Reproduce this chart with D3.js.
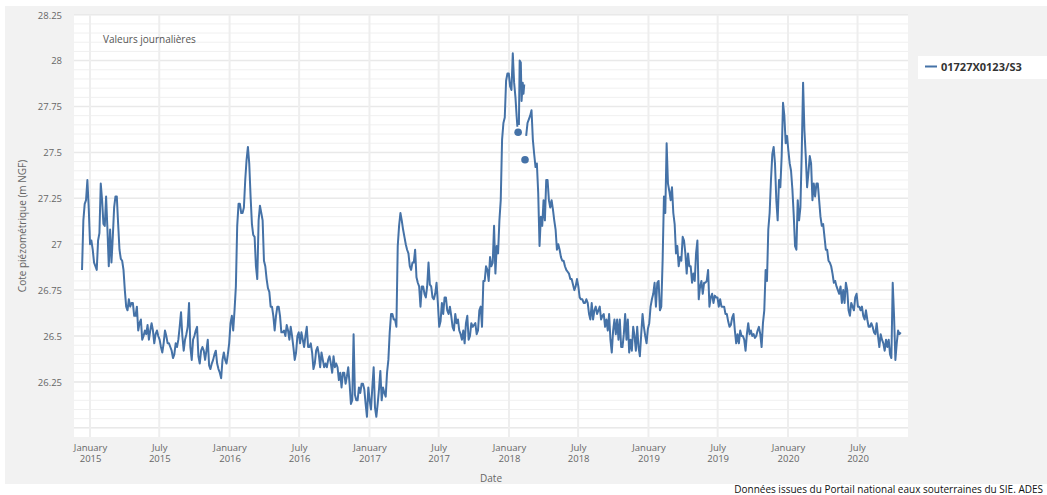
<html>
<head>
<script src="https://d3js.org/d3.v7.min.js"></script>
<style>
  body { margin: 0; background: #fff; }
  text { font-family: "Open Sans", sans-serif; }
</style>
</head>
<body>
<script>

W = 1047;
H = 495;

serieNom = "01727X0123/S3";
titre = "Valeurs journalières";
credit = "Données issues du Portail national eaux souterraines du SIE. ADES";

// releves du jeudi, decembre 2014 -> janvier 2018
debutA = "2014-12-11";
niveauxA = [
  26.86, 27.22, 27.35, 27.00, 26.97, 26.88, 27.02, 27.33, 27.11, 27.26,
  26.88, 26.90, 27.20, 27.26, 26.97, 26.91, 26.75, 26.64, 26.66, 26.68,
  26.61, 26.53, 26.59, 26.50, 26.51, 26.48, 26.57, 26.46, 26.53, 26.48,
  26.41, 26.53, 26.46, 26.44, 26.38, 26.46, 26.48, 26.63, 26.42, 26.51,
  26.68, 26.37, 26.50, 26.55, 26.35, 26.44, 26.37, 26.48, 26.32, 26.37,
  26.42, 26.32, 26.27, 26.41, 26.35, 26.46, 26.61, 26.64, 27.10, 27.22,
  27.17, 27.35, 27.53, 27.26, 27.05, 26.88, 27.13, 27.17, 26.91, 26.81,
  26.74, 26.66, 26.53, 26.66, 26.61, 26.52, 26.50, 26.53, 26.55, 26.44,
  26.41, 26.52, 26.52, 26.44, 26.55, 26.44, 26.41, 26.35, 26.44, 26.33,
  26.37, 26.35, 26.37, 26.35, 26.39, 26.35, 26.26, 26.22, 26.30, 26.28,
  26.24, 26.15, 26.18, 26.15, 26.19, 26.24, 26.13, 26.22, 26.10, 26.33,
  26.06, 26.21, 26.15, 26.19, 26.30, 26.52, 26.62, 26.59, 26.99, 27.17,
  27.08, 27.00, 26.95, 26.86, 26.90, 26.82, 26.77, 26.77, 26.73, 26.77,
  26.78, 26.71, 26.73, 26.68, 26.58, 26.62, 26.71, 26.62, 26.61, 26.53,
  26.57, 26.53, 26.48, 26.46, 26.61, 26.50, 26.55, 26.57, 26.53, 26.66,
  26.80, 26.88, 26.80, 26.88, 27.10, 26.99, 27.13, 27.57, 27.69, 27.93,
  27.86, 28.04, 27.80
];
// releves du lundi (3,5 jours apres chaque jeudi)
niveauxAmi = [
  27.13, 27.24, 27.20, 27.02, 26.90, 26.86, 27.06, 27.24, 27.10, 27.08,
  27.08, 27.04, 27.26, 27.11, 26.92, 26.86, 26.66, 26.70, 26.68, 26.61,
  26.66, 26.57, 26.48, 26.53, 26.56, 26.53, 26.53, 26.51, 26.50, 26.44,
  26.46, 26.50, 26.46, 26.42, 26.40, 26.44, 26.55, 26.50, 26.48, 26.55,
  26.44, 26.48, 26.53, 26.39, 26.42, 26.42, 26.42, 26.34, 26.35, 26.40,
  26.35, 26.30, 26.37, 26.37, 26.40, 26.57, 26.53, 26.77, 27.22, 27.17,
  27.20, 27.46, 27.44, 27.11, 27.04, 26.81, 27.21, 27.13, 26.88, 26.76,
  26.66, 26.61, 26.61, 26.66, 26.52, 26.53, 26.56, 26.48, 26.50, 26.37,
  26.50, 26.46, 26.48, 26.50, 26.44, 26.46, 26.32, 26.42, 26.40, 26.41,
  26.33, 26.33, 26.39, 26.30, 26.33, 26.33, 26.30, 26.30, 26.24, 26.33,
  26.13, 26.51, 26.15, 26.22, 26.24, 26.21, 26.06, 26.15, 26.22, 26.11,
  26.13, 26.31, 26.22, 26.17, 26.37, 26.62, 26.59, 26.55, 27.10, 27.13,
  27.04, 26.97, 26.88, 26.90, 26.97, 26.79, 26.66, 26.77, 26.71, 26.90,
  26.77, 26.70, 26.79, 26.55, 26.68, 26.71, 26.64, 26.66, 26.55, 26.62,
  26.59, 26.51, 26.53, 26.57, 26.48, 26.57, 26.56, 26.51, 26.64, 26.55,
  26.80, 26.86, 26.93, 26.90, 26.84, 26.95, 27.24, 27.66, 27.89, 27.93,
  27.84, 27.88
];

// fin janvier / debut fevrier 2018 : mesures avec trous (null)
detailDates = [
  "2018-01-21", "2018-01-23", "2018-01-24", "2018-01-25", "2018-01-26",
  "2018-01-27", "2018-01-29", "2018-02-01", "2018-02-03", "2018-02-06",
  "2018-02-08", "2018-02-10", "2018-02-11", "2018-02-12", "2018-02-13"
];
detailNiveaux = [
  27.70, 27.64, null, 27.61, null,
  27.65, 28.00, 27.99, 27.78, 27.88,
  27.82, 27.87, null, 27.46, null
];

// releves du jeudi, fevrier 2018 -> octobre 2020
debutC = "2018-02-15";
niveauxC = [
  27.59, 27.68, 27.73, 27.49, 27.44, 26.99, 27.10, 27.13, 27.35, 27.20,
  27.19, 27.08, 27.00, 26.93, 26.91, 26.86, 26.84, 26.81, 26.75, 26.81,
  26.71, 26.70, 26.68, 26.68, 26.59, 26.59, 26.66, 26.64, 26.59, 26.62,
  26.59, 26.62, 26.41, 26.59, 26.59, 26.59, 26.44, 26.62, 26.59, 26.48,
  26.55, 26.42, 26.44, 26.51, 26.55, 26.46, 26.57, 26.70, 26.79, 26.79,
  26.64, 26.91, 27.17, 27.33, 27.24, 27.17, 26.95, 26.88, 26.91, 27.02,
  26.84, 26.88, 26.79, 26.80, 27.02, 26.77, 26.73, 26.79, 26.86, 26.71,
  26.68, 26.71, 26.66, 26.66, 26.66, 26.62, 26.55, 26.60, 26.53, 26.51,
  26.53, 26.50, 26.42, 26.57, 26.53, 26.51, 26.50, 26.55, 26.44, 26.64,
  26.80, 27.17, 27.49, 27.44, 27.13, 27.31, 27.77, 27.55, 27.51, 27.40,
  27.16, 26.97, 27.13, 27.50, 27.62, 27.31, 27.48, 27.24, 27.26, 27.33,
  27.15, 27.11, 26.97, 26.91, 26.88, 26.79, 26.77, 26.73, 26.68, 26.68,
  26.75, 26.61, 26.66, 26.71, 26.66, 26.64, 26.61, 26.64, 26.55, 26.57,
  26.52, 26.57, 26.44, 26.48, 26.42, 26.44, 26.40, 26.79, 26.37, 26.53,
  26.52
];
niveauxCmi = [
  27.66, 27.70, 27.57, 27.42, 27.28, 27.15, 27.24, 27.35, 27.24, 27.24,
  27.13, 26.97, 26.97, 26.91, 26.88, 26.85, 26.81, 26.78, 26.77, 26.77,
  26.70, 26.68, 26.70, 26.62, 26.68, 26.64, 26.62, 26.66, 26.61, 26.55,
  26.53, 26.48, 26.53, 26.51, 26.48, 26.44, 26.51, 26.48, 26.41, 26.42,
  26.50, 26.55, 26.39, 26.62, 26.50, 26.54, 26.66, 26.73, 26.66, 26.80,
  26.66, 27.26, 27.55, 27.29, 27.31, 27.11, 26.99, 26.93, 27.04, 26.95,
  26.95, 26.88, 26.84, 26.95, 26.70, 26.80, 26.79, 26.80, 26.66, 26.73,
  26.72, 26.71, 26.70, 26.66, 26.62, 26.58, 26.56, 26.62, 26.46, 26.46,
  26.50, 26.48, 26.51, 26.51, 26.50, 26.49, 26.53, 26.51, 26.57, 26.86,
  27.08, 27.35, 27.53, 27.24, 27.35, 27.48, 27.70, 27.59, 27.44, 27.30,
  26.99, 27.24, 27.20, 27.88, 27.48, 27.39, 27.44, 27.33, 27.33, 27.24,
  27.10, 27.04, 26.97, 26.90, 26.84, 26.80, 26.75, 26.77, 26.75, 26.79,
  26.64, 26.68, 26.64, 26.73, 26.66, 26.66, 26.59, 26.59, 26.55, 26.55,
  26.51, 26.50, 26.51, 26.46, 26.48, 26.48, 26.38, 26.61, 26.46, 26.51
];

yTicks = [26.25, 26.5, 26.75, 27, 27.25, 27.5, 27.75, 28, 28.25];
moisNoms = ["January", "July"];

parse = d3.timeParse("%Y-%m-%d");

function hebdo(debut, valeurs, decalageH) {
  var d0 = d3.timeHour.offset(parse(debut), decalageH);
  return valeurs.map((v, i) => ({ date: d3.timeDay.offset(d0, 7 * i), v: v }));
}

points = hebdo(debutA, niveauxA, 0)
  .concat(hebdo(debutA, niveauxAmi, 84))
  .concat(detailDates.map((d, i) => ({ date: parse(d), v: detailNiveaux[i] })))
  .concat(hebdo(debutC, niveauxC, 0))
  .concat(hebdo(debutC, niveauxCmi, 84))
  .sort((a, b) => a.date - b.date);

// plot area
pl = 74; pt = 14.7; pr = 908; pb = 437;

x = d3.scaleTime()
  .domain([parse("2014-11-20"), parse("2020-11-10")])
  .range([pl, pr]);

y = d3.scaleLinear()
  .domain([25.95, 28.25])
  .range([pb, pt]);

svg = d3.select("body").append("svg")
  .attr("width", W)
  .attr("height", H);

svg.append("rect")
  .attr("x", 5).attr("y", 6)
  .attr("width", W - 5).attr("height", 478)
  .attr("fill", "#f2f2f2");

svg.append("rect")
  .attr("x", pl).attr("y", pt)
  .attr("width", pr - pl).attr("height", pb - pt)
  .attr("fill", "#fff");

// minor horizontal grid
minor = d3.range(0, 46).map(i => 26 + i * 0.05);
svg.append("g").selectAll("line")
  .data(minor)
  .enter().append("line")
  .attr("x1", pl).attr("x2", pr)
  .attr("y1", d => y(d)).attr("y2", d => y(d))
  .attr("stroke", "#f0f0f0")
  .attr("stroke-width", 1);

svg.append("g").selectAll("line")
  .data([26].concat(yTicks))
  .enter().append("line")
  .attr("x1", pl).attr("x2", pr)
  .attr("y1", d => y(d)).attr("y2", d => y(d))
  .attr("stroke", "#e9e9e9")
  .attr("stroke-width", 1.5);

xTicks = d3.timeMonth.range(new Date(2015, 0, 1), new Date(2020, 7, 1), 6);

svg.append("g").selectAll("line")
  .data(xTicks)
  .enter().append("line")
  .attr("x1", d => x(d)).attr("x2", d => x(d))
  .attr("y1", pt).attr("y2", pb)
  .attr("stroke", "#eeeeee")
  .attr("stroke-width", 2);

// y axis
yAxis = svg.append("g")
  .attr("transform", "translate(" + (pl - 12) + ",0)")
  .call(d3.axisLeft(y).tickValues(yTicks).tickSize(0).tickFormat(d3.format("~g")));
yAxis.select(".domain").remove();
yAxis.selectAll("text")
  .attr("fill", "#666")
  .attr("font-size", "9.5px")
  .attr("x", 0)
  .attr("dy", "0.35em");

// x axis, two-line labels
xAxis = svg.append("g")
  .attr("transform", "translate(0," + pb + ")")
  .call(d3.axisBottom(x).tickValues(xTicks).tickSize(0).tickFormat(""));
xAxis.select(".domain").remove();
xAxis.selectAll(".tick text").each(function(d) {
  var t = d3.select(this)
    .attr("fill", "#666")
    .attr("font-size", "9.5px")
    .attr("y", 14)
    .attr("dy", 0);
  t.append("tspan").attr("x", 0).text(moisNoms[d.getMonth() == 0 ? 0 : 1]);
  t.append("tspan").attr("x", 0).attr("dy", 11).text(d.getFullYear());
});

svg.append("text")
  .attr("x", (pl + pr) / 2).attr("y", 482)
  .attr("text-anchor", "middle")
  .attr("fill", "#666")
  .attr("font-size", "10px")
  .text("Date");

svg.append("text")
  .attr("transform", "translate(26,226) rotate(-90)")
  .attr("text-anchor", "middle")
  .attr("fill", "#666")
  .attr("font-size", "10px")
  .text("Cote piézométrique (m NGF)");

svg.append("text")
  .attr("x", 103).attr("y", 43)
  .attr("fill", "#555")
  .attr("font-size", "10px")
  .text(titre);

// series
svg.append("clipPath").attr("id", "clip")
  .append("rect")
  .attr("x", pl).attr("y", pt)
  .attr("width", pr - pl).attr("height", pb - pt);

line = d3.line()
  .defined(d => d.v != null)
  .x(d => x(d.date))
  .y(d => y(d.v));

svg.append("path")
  .datum(points)
  .attr("clip-path", "url(#clip)")
  .attr("d", line)
  .attr("fill", "none")
  .attr("stroke", "#4572A7")
  .attr("stroke-width", 2)
  .attr("stroke-linejoin", "round");

// isolated points get a marker
isoles = points.filter((d, i) => d.v != null &&
  (i == 0 || points[i - 1].v == null) &&
  (i == points.length - 1 || points[i + 1].v == null));

svg.append("g").selectAll("circle")
  .data(isoles)
  .enter().append("circle")
  .attr("cx", d => x(d.date))
  .attr("cy", d => y(d.v))
  .attr("r", 3.8)
  .attr("fill", "#4572A7");

// legend
svg.append("rect")
  .attr("x", 918).attr("y", 56)
  .attr("width", W - 918).attr("height", 23)
  .attr("fill", "#fff");

svg.append("line")
  .attr("x1", 925).attr("x2", 937)
  .attr("y1", 66.5).attr("y2", 66.5)
  .attr("stroke", "#4572A7")
  .attr("stroke-width", 2);

svg.append("text")
  .attr("x", 941).attr("y", 70.5)
  .attr("fill", "#333")
  .attr("font-size", "11px")
  .attr("font-weight", "bold")
  .text(serieNom);

svg.append("text")
  .attr("x", 1043).attr("y", 493)
  .attr("text-anchor", "end")
  .attr("fill", "#111")
  .attr("font-size", "10px")
  .text(credit);

</script>
</body>
</html>
